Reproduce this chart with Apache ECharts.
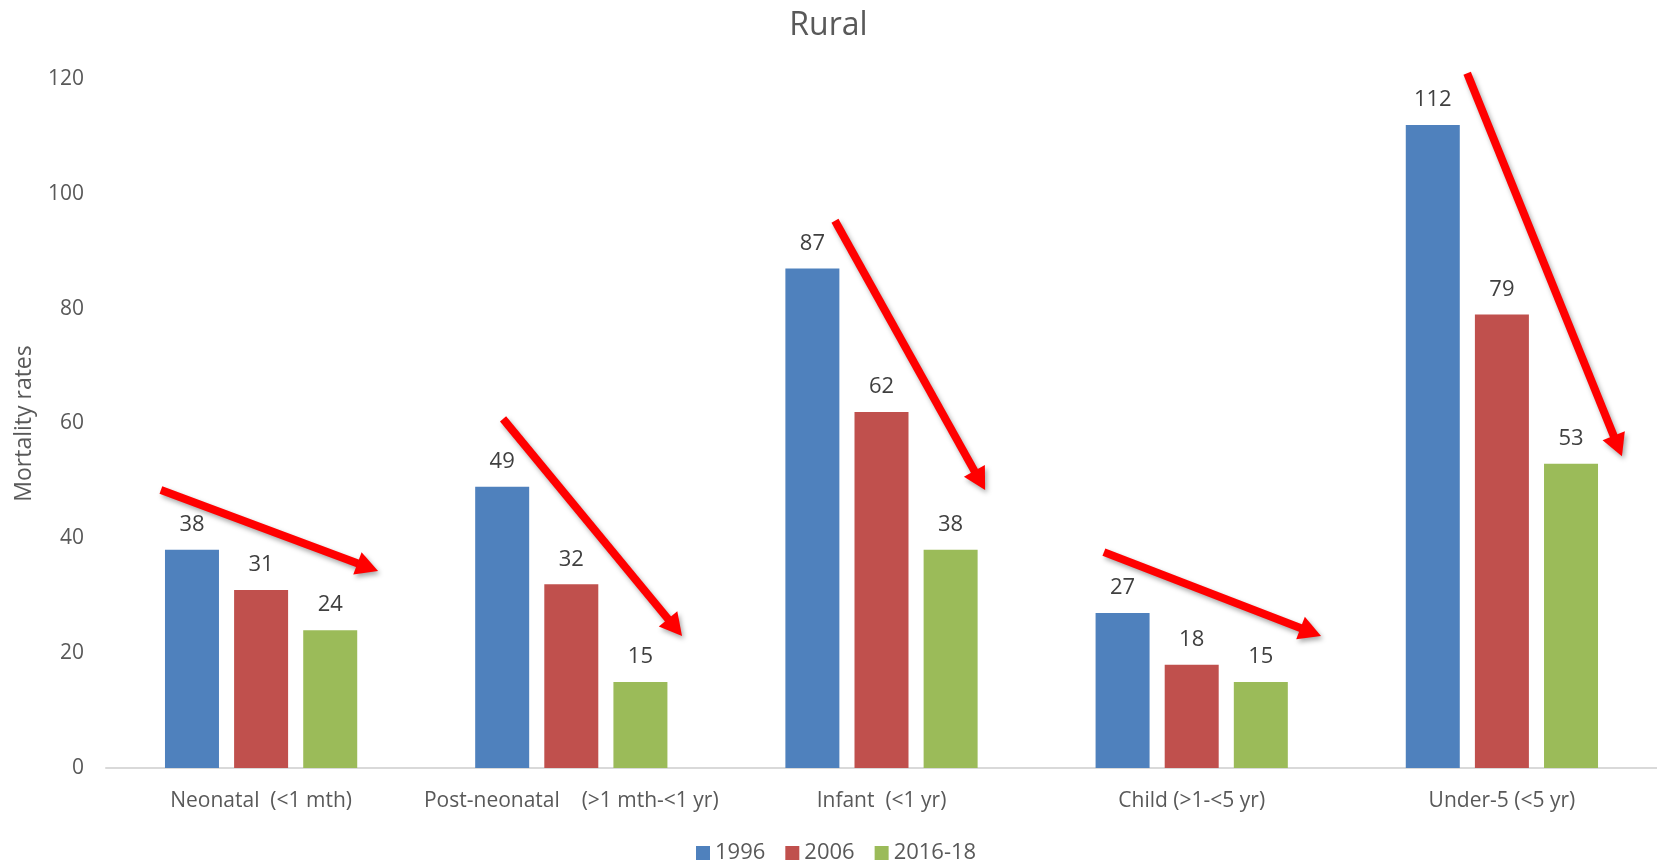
<!DOCTYPE html>
<html>
<head>
<meta charset="utf-8">
<title>Rural</title>
<script src="https://cdn.jsdelivr.net/npm/echarts@6/dist/echarts.min.js"></script>
<style>
  html, body { margin: 0; padding: 0; background: #ffffff; }
  #chart { width: 1657px; height: 861px; }
</style>
</head>
<body>
<div id="chart"></div>
<script>
// Age groups along the x axis
const categories = ['Neonatal  (<1 mth)', 'Post-neonatal    (>1 mth-<1 yr)', 'Infant  (<1 yr)', 'Child (>1-<5 yr)', 'Under-5 (<5 yr)'];

// Mortality rates per survey round
const values1996 = [38, 49, 87, 27, 112];
const values2006 = [31, 32, 62, 18, 79];
const values2016 = [24, 15, 38, 15, 53];

const seriesNames = ['1996', '2006', '2016-18'];
const seriesColors = ['#4F81BD', '#C0504D', '#9BBB59'];

// Y axis ticks
const yMin = 0, yMax = 120, yStep = 20;

// Downward trend arrows, in data units: x runs 0..5 across the category bands, y is the rate
const trendArrows = [
  { from: [0.177, 48.4], to: [0.877, 34.3] },
  { from: [1.280, 60.8], to: [1.857, 23.0] },
  { from: [2.350, 95.3], to: [2.834, 48.4] },
  { from: [3.217, 37.6], to: [3.917, 23.0] },
  { from: [4.388, 121.0], to: [4.887, 54.3] }
];

const font = '"Open Sans", "DejaVu Sans", sans-serif';
const textGrey = '#595959';

function barSeries(name, data, color) {
  return {
    name: name,
    type: 'bar',
    data: data,
    barWidth: 54,
    barGap: '28%',
    itemStyle: { color: color },
    label: {
      show: true,
      position: 'top',
      distance: 14,
      color: '#404040',
      fontSize: 22,
      fontFamily: font
    }
  };
}

const chart = echarts.init(document.getElementById('chart'), null, { renderer: 'canvas' });

chart.setOption({
  backgroundColor: '#ffffff',
  animation: false,
  title: {
    text: 'Rural',
    left: 'center',
    top: 5,
    textStyle: { color: textGrey, fontSize: 32, fontWeight: 'normal', fontFamily: font }
  },
  legend: {
    data: seriesNames,
    top: 837,
    left: 691,
    itemWidth: 14,
    itemHeight: 14,
    itemGap: 20,
    icon: 'rect',
    textStyle: { color: textGrey, fontSize: 22, fontFamily: font }
  },
  grid: { left: 106, right: 0, top: 79, bottom: 93, containLabel: false },
  xAxis: [
    {
      type: 'category',
      data: categories,
      axisLine: { lineStyle: { color: '#D9D9D9', width: 2 } },
      axisTick: { show: false },
      axisLabel: { color: textGrey, fontSize: 21, fontFamily: font, margin: 23, interval: 0 }
    },
    {
      type: 'value',
      min: 0,
      max: 5,
      show: false
    }
  ],
  yAxis: {
    type: 'value',
    min: yMin,
    max: yMax,
    interval: yStep,
    name: 'Mortality rates',
    nameLocation: 'middle',
    nameGap: 70,
    nameTextStyle: { color: textGrey, fontSize: 23, fontFamily: font },
    axisLine: { show: false },
    axisTick: { show: false },
    splitLine: { show: false },
    axisLabel: { color: textGrey, fontSize: 21, fontFamily: font, margin: 22 }
  },
  series: [
    barSeries(seriesNames[0], values1996, seriesColors[0]),
    barSeries(seriesNames[1], values2006, seriesColors[1]),
    barSeries(seriesNames[2], values2016, seriesColors[2]),
    // empty series that ties the hidden value x axis to the grid
    { name: 'trend', type: 'line', xAxisIndex: 1, data: [], silent: true }
  ]
});

// Arrow shapes: shaft plus a solid triangular head, placed through the axes' own conversion
const headLength = 22, headWidth = 24, shaftWidth = 8;
const arrowShadow = { shadowColor: 'rgba(0,0,0,0.35)', shadowBlur: 5, shadowOffsetX: 2, shadowOffsetY: 3 };

function arrowElements(a) {
  const p0 = chart.convertToPixel({ xAxisIndex: 1, yAxisIndex: 0 }, a.from);
  const p1 = chart.convertToPixel({ xAxisIndex: 1, yAxisIndex: 0 }, a.to);
  const dx = p1[0] - p0[0], dy = p1[1] - p0[1];
  const len = Math.sqrt(dx * dx + dy * dy);
  const ux = dx / len, uy = dy / len;
  const nx = -uy, ny = ux;
  const bx = p1[0] - ux * headLength, by = p1[1] - uy * headLength;
  return [
    {
      type: 'line',
      silent: true,
      shape: { x1: p0[0], y1: p0[1], x2: bx + ux * 2, y2: by + uy * 2 },
      style: Object.assign({ stroke: '#FF0000', lineWidth: shaftWidth, lineCap: 'butt' }, arrowShadow)
    },
    {
      type: 'polygon',
      silent: true,
      shape: {
        points: [
          [p1[0], p1[1]],
          [bx + nx * headWidth / 2, by + ny * headWidth / 2],
          [bx - nx * headWidth / 2, by - ny * headWidth / 2]
        ]
      },
      style: Object.assign({ fill: '#FF0000' }, arrowShadow)
    }
  ];
}

const arrowGraphics = [];
trendArrows.forEach(a => arrowElements(a).forEach(el => arrowGraphics.push(el)));
chart.setOption({ graphic: { elements: arrowGraphics } });
</script>
</body>
</html>
